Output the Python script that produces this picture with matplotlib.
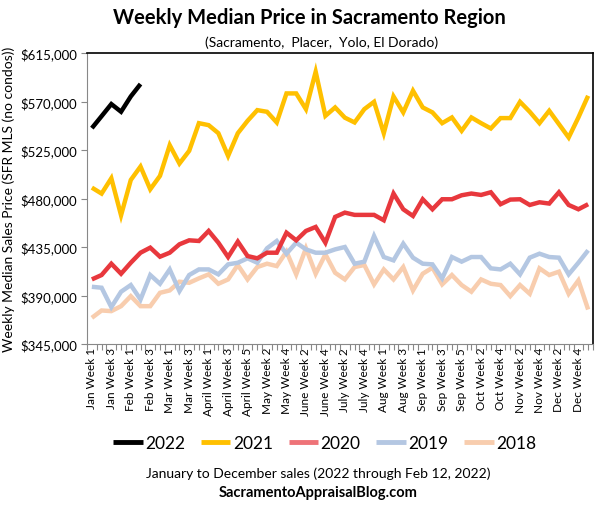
import matplotlib
matplotlib.use("Agg")
import matplotlib.pyplot as plt
import numpy as np

plt.rcParams['font.family'] = ['Lato', 'DejaVu Sans']

week_labels = ["Jan Week 1", "Jan Week 3", "Feb Week 1", "Feb Week 3", "Mar Week 1", "Mar Week 3",
               "April Week 1", "April Week 3", "April Week 5", "May Week 2", "May Week 4",
               "June Week 2", "June Week 4", "July Week 2", "July Week 4", "Aug Week 1",
               "Aug Week 3", "Sep Week 1", "Sep Week 3", "Sep Week 5", "Oct Week 2",
               "Oct Week 4", "Nov Week 2", "Nov Week 4", "Dec Week 2", "Dec Week 4"]

y2022 = [545300, 556400, 567600, 560500, 574700, 586200]

y2021 = [490100, 484550, 498800, 464400, 497200, 509650, 488560, 501000, 529460, 512450,
         524200, 549900, 548060, 540600, 519500, 540600, 552060, 562000, 560450, 550560,
         577500, 577500, 562900, 597600, 556700, 564500, 555000, 550560, 562900, 569700,
         540600, 574700, 559900, 580000, 564500, 559900, 549900, 555200, 542800, 555200,
         549900, 545000, 554600, 554600, 569700, 560450, 549900, 561400, 549000, 536600,
         555200, 575300]

y2020 = [404940, 409000, 419500, 410200, 420400, 429700, 434400, 426000, 429700, 437500,
         441200, 440600, 449900, 439000, 425700, 440000, 426600, 424500, 429700, 429700,
         448300, 441200, 449900, 453600, 439000, 462900, 466900, 464800, 464800, 464800,
         459800, 484600, 470000, 463800, 479300, 470000, 479300, 479300, 483000, 484600,
         483300, 485800, 474700, 479000, 479300, 474000, 476500, 475300, 485800, 474000,
         470000, 474700]

y2019 = [398100, 397200, 379200, 393500, 399700, 386300, 409000, 400900, 414200, 394100,
         409000, 414200, 414200, 409600, 418900, 420400, 424500, 420400, 433800, 440600,
         428800, 439000, 432800, 429700, 429700, 432800, 435000, 419500, 421400, 445200,
         425700, 422600, 438100, 425100, 419500, 418900, 405900, 425700, 421400, 425700,
         425700, 415200, 414200, 419500, 409600, 425100, 428800, 425700, 425100, 409600,
         420400, 431900]

y2018 = [369300, 376100, 375500, 380100, 389400, 380100, 380100, 392500, 394700, 402800,
         401800, 405900, 409600, 400900, 404900, 418300, 404900, 416400, 419500, 417300,
         430700, 409600, 433800, 410200, 428200, 411100, 404900, 416400, 418300, 400300,
         414200, 404900, 416400, 394700, 410200, 415800, 400300, 409000, 399700, 393500,
         404900, 400900, 399700, 389400, 399700, 391600, 415200, 409000, 412100, 391600,
         404000, 377000]

series = [("2022", y2022, "#000000"),
          ("2021", y2021, "#FFC000"),
          ("2020", y2020, "#E8383D"),
          ("2019", y2019, "#B4C7E2"),
          ("2018", y2018, "#F8CDAE")]

fig = plt.figure(figsize=(6.07, 5.06), dpi=100)
ax = fig.add_axes([87/607, 1-345/506, (593-87)/607, (345-54)/506])

# draw older years first so newer are on top
for name, vals, col in reversed(series):
    ax.plot(np.arange(len(vals)), vals, color=col, lw=3.2, solid_joinstyle='miter',
            solid_capstyle='butt', label=name)

n = len(y2021)
ax.set_xlim(-0.5, n - 0.5)
ax.set_ylim(345000, 615000)
yt = np.arange(345000, 615001, 45000)
ax.set_yticks(yt)
ax.set_yticklabels([f"${v:,.0f}" for v in yt], fontsize=9.5)

ax.set_xticks(np.arange(0, 2*len(week_labels), 2))
ax.set_xticklabels(week_labels, rotation=90, fontsize=8.5)
ax.set_xticks(np.arange(-0.5, n, 0.5), minor=True)
ax.tick_params(axis='x', which='both', length=4, width=0.8, color='#888888', direction='out', pad=2)
ax.tick_params(axis='x', which='major', length=0)
ax.tick_params(axis='y', length=4, width=0.8, color='#888888', direction='out', pad=3)

for s in ['top', 'right']:
    ax.spines[s].set_color('black')
    ax.spines[s].set_linewidth(1.2)
for s in ['left', 'bottom']:
    ax.spines[s].set_color('#888888')
    ax.spines[s].set_linewidth(0.8)

ax.set_ylabel("Weekly Median Sales Price (SFR MLS (no condos))", fontsize=10, labelpad=4)

fig.text(0.51, 1-18/506, "Weekly Median Price in Sacramento Region", ha='center', va='center',
         fontsize=14.5, fontweight='bold')
fig.text(0.53, 1-43/506, "(Sacramento,  Placer,  Yolo, El Dorado)", ha='center', va='center',
         fontsize=10)

handles, labels = ax.get_legend_handles_labels()
handles = handles[::-1]
labels = labels[::-1]
leg = fig.legend(handles, labels, loc='center', bbox_to_anchor=(0.535, 1-444/506), ncol=5,
                 frameon=False, fontsize=12.5, handlelength=1.7, handletextpad=0.15,
                 columnspacing=0.9)
for lh, lab in zip(leg.get_lines(), labels):
    lh.set_linewidth(3.5)
    if lab == "2020":
        lh.set_color("#EE7378")

fig.text(0.524, 1-474/506, "January to December sales (2022 through Feb 12, 2022)", ha='center',
         va='center', fontsize=10)
fig.text(0.524, 1-493/506, "SacramentoAppraisalBlog.com", ha='center', va='center',
         fontsize=10.5, fontweight='bold')

fig.savefig("out.png", dpi=100)
